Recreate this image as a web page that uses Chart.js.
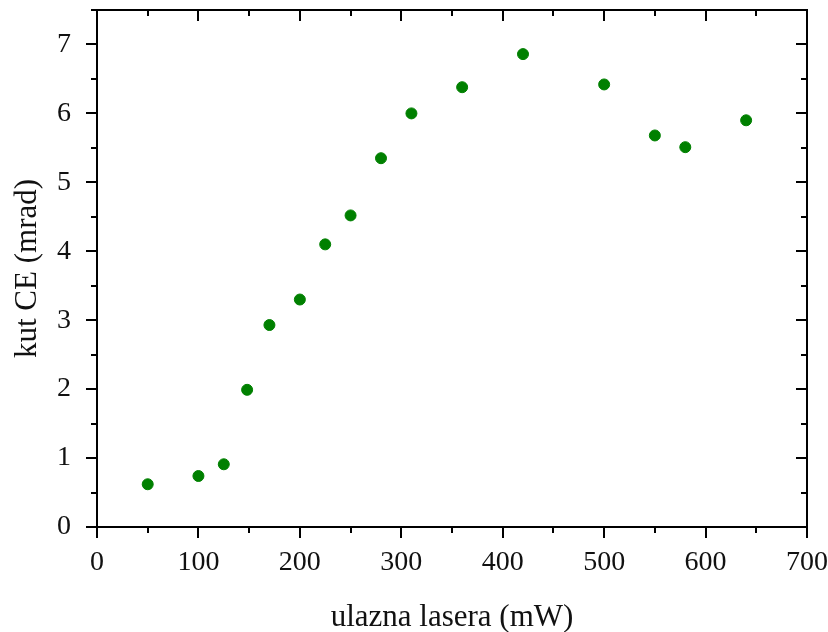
<!DOCTYPE html>
<html>
<head>
<meta charset="utf-8">
<script src="https://cdn.jsdelivr.net/npm/chart.js@4"></script>
<style>
  html, body { margin: 0; padding: 0; background: #fff; }
  #wrap { width: 828px; height: 632px; }
</style>
</head>
<body>
<div id="wrap"><canvas id="chart" width="828" height="632"></canvas></div>
<script>
  const powerMw = [50, 100, 125, 148, 170, 200, 225, 250, 280, 310, 360, 420, 500, 550, 580, 640];
  const angleMrad = [0.62, 0.74, 0.91, 1.99, 2.93, 3.30, 4.10, 4.52, 5.35, 6.00, 6.38, 6.86, 6.42, 5.68, 5.51, 5.90];
  const xTicks = [0, 100, 200, 300, 400, 500, 600, 700];
  const yTicks = [0, 1, 2, 3, 4, 5, 6, 7];

  const FONT = "'Liberation Serif', 'DejaVu Serif', serif";

  function noPad(s) {
    s.paddingLeft = 0;
    s.paddingRight = 0;
    s.paddingTop = 0;
    s.paddingBottom = 0;
  }

  // frame + major/minor ticks on all four sides
  const frameTicks = {
    id: "frameTicks",
    afterDraw(chart) {
      const { ctx, chartArea: a, scales } = chart;
      const x = scales.x, y = scales.y;
      ctx.save();
      ctx.strokeStyle = "#000";
      ctx.lineWidth = 2;
      ctx.strokeRect(a.left, a.top, a.right - a.left, a.bottom - a.top);
      ctx.beginPath();
      for (let v = 0; v <= 700; v += 50) {
        const px = Math.round(x.getPixelForValue(v));
        const len = v % 100 === 0 ? 11 : 6;
        ctx.moveTo(px, a.bottom); ctx.lineTo(px, a.bottom + len);
        ctx.moveTo(px, a.top); ctx.lineTo(px, a.top + len);
      }
      for (let v = 0; v <= 7.5; v += 0.5) {
        const py = Math.round(y.getPixelForValue(v));
        const len = v % 1 === 0 ? 11 : 6;
        ctx.moveTo(a.left, py); ctx.lineTo(a.left - len, py);
        ctx.moveTo(a.right, py); ctx.lineTo(a.right - len, py);
      }
      ctx.stroke();
      ctx.restore();
    },
  };

  new Chart(document.getElementById("chart"), {
    type: "scatter",
    data: {
      datasets: [{
        data: powerMw.map((p, i) => ({ x: p, y: angleMrad[i] })),
        backgroundColor: "#008000",
        borderColor: "#008000",
        pointRadius: 5.5,
        pointHoverRadius: 5.5,
      }],
    },
    options: {
      responsive: false,
      animation: false,
      layout: { padding: { top: 10, right: 21, left: 0, bottom: 0 } },
      plugins: { legend: { display: false }, tooltip: { enabled: false } },
      scales: {
        x: {
          type: "linear",
          min: 0,
          max: 700,
          afterBuildTicks: (s) => { s.ticks = xTicks.map((v) => ({ value: v })); },
          afterFit: (s) => { s.height = 105; noPad(s); },
          grid: { display: false },
          border: { display: false },
          ticks: { color: "#111", padding: 11, maxRotation: 0, font: { family: FONT, size: 28 } },
          title: {
            display: true,
            text: "ulazna lasera (mW)",
            color: "#111",
            font: { family: FONT, size: 31 },
            padding: { top: 0, bottom: -4 },
          },
        },
        y: {
          type: "linear",
          min: 0,
          max: 7.5,
          afterBuildTicks: (s) => { s.ticks = yTicks.map((v) => ({ value: v })); },
          afterFit: (s) => { s.width = 97; noPad(s); },
          grid: { display: false },
          border: { display: false },
          ticks: { color: "#111", padding: 18, font: { family: FONT, size: 28 } },
          title: {
            display: true,
            text: "kut CE (mrad)",
            color: "#111",
            font: { family: FONT, size: 31 },
            padding: { top: 9, bottom: 0 },
          },
        },
      },
    },
    plugins: [frameTicks],
  });
</script>
</body>
</html>
